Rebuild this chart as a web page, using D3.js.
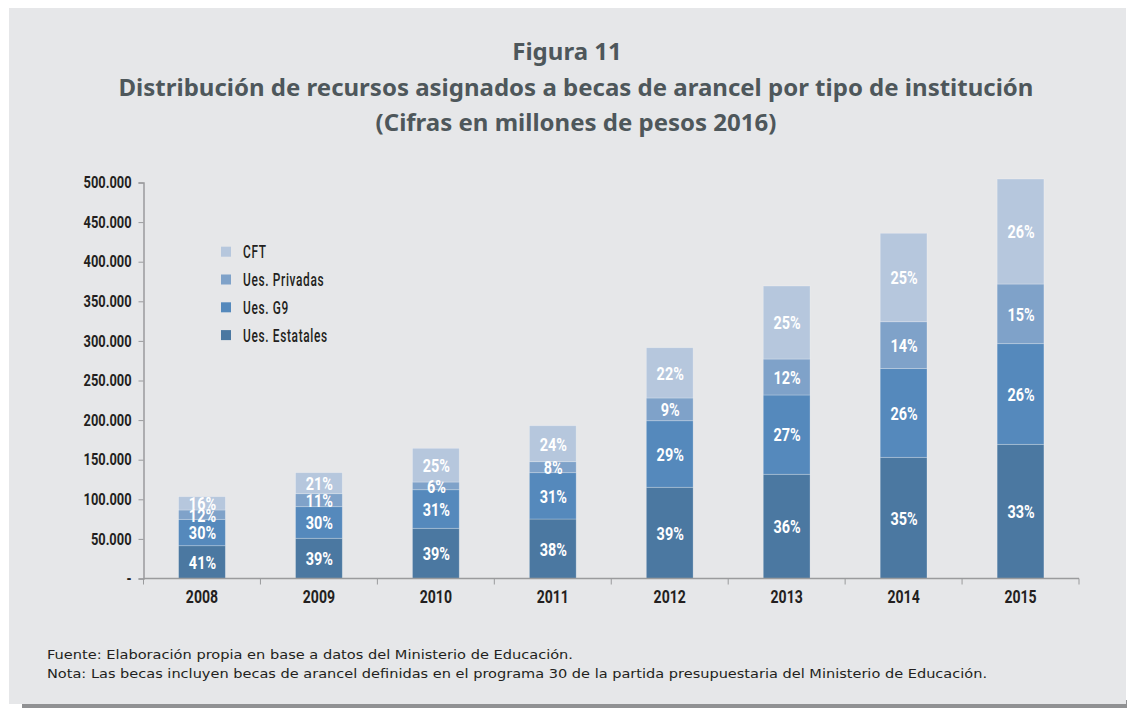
<!DOCTYPE html>
<html><head><meta charset="utf-8">
<script src="https://cdn.jsdelivr.net/npm/d3@7"></script>
<style>
html,body{margin:0;padding:0;background:#fff;}
svg{display:block;}
</style></head>
<body>
<svg id="c" width="1127" height="708"></svg>
<script>
const years = ["2008","2009","2010","2011","2012","2013","2014","2015"];
const seriesNames = ["Ues. Estatales","Ues. G9","Ues. Privadas","CFT"];
const estatales = [41.4, 50.8, 63.4, 75.1, 115.2, 131.6, 153.0, 169.4];
const g9        = [33.3, 39.9, 48.7, 58.5, 84.0, 100.1, 112.3, 127.1];
const privadas  = [11.8, 16.4, 9.7, 13.9, 28.7, 45.4, 58.9, 75.3];
const cft       = [16.8, 26.5, 42.6, 45.4, 63.5, 92.2, 111.7, 132.6];
const pctEstatales = ["41%","39%","39%","38%","39%","36%","35%","33%"];
const pctG9        = ["30%","30%","31%","31%","29%","27%","26%","26%"];
const pctPrivadas  = ["12%","11%","6%","8%","9%","12%","14%","15%"];
const pctCft       = ["16%","21%","25%","24%","22%","25%","25%","26%"];
const yTicks = [0,50000,100000,150000,200000,250000,300000,350000,400000,450000,500000];
const yTickLabels = ["-","50.000","100.000","150.000","200.000","250.000","300.000","350.000","400.000","450.000","500.000"];
const colors = ["#4b78a1","#5589bc","#7fa2c9","#b6c7dd"];

const svg = d3.select("#c");
svg.append("rect").attr("x",22).attr("y",700).attr("width",1105).attr("height",8).attr("fill","#909193");
svg.append("rect").attr("x",9).attr("y",8).attr("width",1117).attr("height",696).attr("fill","#e6e7e9");

const titleColor = "#4e575b";
const tf = "'Noto Sans', 'Open Sans', sans-serif";
[["Figura 11",567,60],["Distribución de recursos asignados a becas de arancel por tipo de institución",576,96],["(Cifras en millones de pesos 2016)",576,131]]
.forEach(([t,xx,yy])=>{
  svg.append("text").attr("x",xx).attr("y",yy).attr("text-anchor","middle")
    .attr("font-family",tf).attr("font-weight","bold").attr("font-size",24).attr("fill",titleColor).text(t);
});

const cf = "Roboto, 'Noto Sans', sans-serif";
function cText(parent, xx, yy, str, size, sx, weight, anchor, ls){
  const g = parent.append("g").attr("transform",`translate(${xx},${yy}) scale(${sx},1)`);
  return g.append("text").attr("x",0).attr("y",0).attr("dy","0.36em")
    .attr("text-anchor",anchor).attr("font-family",cf).attr("font-weight",weight)
    .attr("font-size",size).attr("letter-spacing",ls||0).text(str);
}

const x0 = 143.5, x1 = 1079;
const x = d3.scaleBand().domain(years).range([x0,x1]).paddingInner(0.6).paddingOuter(0.3);
const y = d3.scaleLinear().domain([0,500000]).range([578.5,182.5]);

const rows = years.map((yr,i)=>({year:yr, e:estatales[i]*1000, g:g9[i]*1000, p:privadas[i]*1000, c:cft[i]*1000}));
const series = d3.stack().keys(["e","g","p","c"])(rows);
const pcts = [pctEstatales,pctG9,pctPrivadas,pctCft];

const gBars = svg.append("g");
series.forEach((s,si)=>{
  gBars.selectAll(null).data(s).enter().append("rect")
    .attr("x",d=>x(d.data.year)).attr("width",x.bandwidth())
    .attr("y",d=>y(d[1])).attr("height",d=>y(d[0])-y(d[1]))
    .attr("fill",colors[si]).attr("stroke","rgba(255,255,255,0.3)").attr("stroke-width",0.8);
});
series.forEach((s,si)=>{
  s.forEach((d,i)=>{
    cText(gBars, x(d.data.year)+x.bandwidth()/2+0.5, (y(d[0])+y(d[1]))/2, pcts[si][i], 19, 0.76, "bold", "middle")
      .attr("fill","#fff");
  });
});

const axisColor = "#9a9b9d";
const yAxis = d3.axisLeft(y).tickValues(yTicks).tickSize(5).tickFormat((d,i)=>yTickLabels[i]);
const gy = svg.append("g").attr("transform",`translate(${x0},0)`).call(yAxis);
gy.select(".domain").attr("stroke",axisColor).attr("stroke-width",1.5);
gy.selectAll(".tick line").attr("stroke",axisColor);
const ysx = 0.78;
gy.selectAll(".tick text").attr("font-family",cf).attr("font-weight","bold").attr("font-size",16.5)
  .attr("fill","#231f20").attr("x",-12/ysx).attr("transform",`scale(${ysx},1)`);

const step = x.step();
const bounds = d3.range(years.length+1).map(i=>x0 + i*step);
const gx = svg.append("g");
gx.append("line").attr("x1",x0).attr("x2",x1).attr("y1",y(0)).attr("y2",y(0)).attr("stroke",axisColor).attr("stroke-width",1.5);
gx.selectAll(null).data(bounds).enter().append("line")
  .attr("x1",d=>d).attr("x2",d=>d).attr("y1",y(0)).attr("y2",y(0)+6).attr("stroke",axisColor);
years.forEach(yr=>{
  cText(gx, x(yr)+x.bandwidth()/2, 596, yr, 19, 0.74, "bold", "middle").attr("fill","#231f20");
});

const legendOrder = [3,2,1,0];
const lg = svg.append("g");
legendOrder.forEach((si,k)=>{
  const cy = 251.7 + k*27.8;
  lg.append("rect").attr("x",221).attr("y",cy-5).attr("width",10).attr("height",10).attr("fill",colors[si]);
  cText(lg, 243, cy, seriesNames[si], 18, 0.66, "500", "start", 1).attr("fill","#231f20");
});

const ff = "'DejaVu Sans', 'Noto Sans', sans-serif";
svg.append("text").attr("x",47).attr("y",659).attr("font-family",ff).attr("font-size",13).attr("fill","#231f20")
  .attr("textLength",526).attr("lengthAdjust","spacingAndGlyphs")
  .text("Fuente: Elaboración propia en base a datos del Ministerio de Educación.");
svg.append("text").attr("x",47).attr("y",678).attr("font-family",ff).attr("font-size",13).attr("fill","#231f20")
  .attr("textLength",940).attr("lengthAdjust","spacingAndGlyphs")
  .text("Nota: Las becas incluyen becas de arancel definidas en el programa 30 de la partida presupuestaria del Ministerio de Educación.");
</script>
</body></html>
